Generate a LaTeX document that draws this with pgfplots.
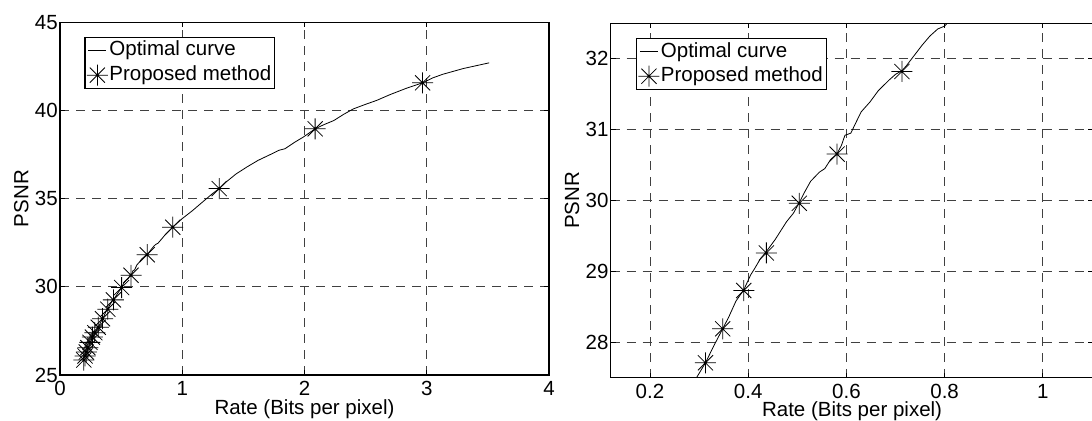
\documentclass[border=0pt]{standalone}
\usepackage{pgfplots}
\pgfplotsset{compat=1.18}
\usepackage{fontspec}
\setmainfont{Liberation Sans}

\pgfdeclareplotmark{mstar}{%
  \pgfpathmoveto{\pgfqpoint{-\pgfplotmarksize}{0pt}}%
  \pgfpathlineto{\pgfqpoint{\pgfplotmarksize}{0pt}}%
  \pgfpathmoveto{\pgfqpoint{0pt}{-\pgfplotmarksize}}%
  \pgfpathlineto{\pgfqpoint{0pt}{\pgfplotmarksize}}%
  \pgfpathmoveto{\pgfqpoint{-0.72\pgfplotmarksize}{-0.72\pgfplotmarksize}}%
  \pgfpathlineto{\pgfqpoint{0.72\pgfplotmarksize}{0.72\pgfplotmarksize}}%
  \pgfpathmoveto{\pgfqpoint{-0.72\pgfplotmarksize}{0.72\pgfplotmarksize}}%
  \pgfpathlineto{\pgfqpoint{0.72\pgfplotmarksize}{-0.72\pgfplotmarksize}}%
  \pgfusepathqstroke}

\pgfplotstableread{
x y
0.19 25.85
0.205 26.10
0.22 26.38
0.24 26.72
0.26 27.05
0.28 27.32
0.2935 27.485
0.313 27.71
0.33 27.95
0.348 28.19
0.36 28.35
0.375 28.58
0.391 28.74
0.405 28.95
0.414 29.05
0.425 29.18
0.437 29.28
0.455 29.45
0.478 29.70
0.492 29.82
0.504 29.97
0.515 30.12
0.527 30.27
0.545 30.40
0.556 30.45
0.568 30.58
0.581 30.66
0.590 30.78
0.597 30.92
0.609 30.95
0.618 31.08
0.630 31.25
0.648 31.39
0.665 31.55
0.687 31.70
0.700 31.78
0.713 31.83
0.722 31.90
0.733 32.00
0.754 32.19
0.770 32.32
0.786 32.42
0.800 32.46
0.82 32.62
0.86 32.95
0.922 33.38
1.00 33.87
1.08 34.30
1.19 34.95
1.25 35.30
1.302 35.57
1.36 35.95
1.44 36.40
1.53 36.80
1.62 37.17
1.72 37.50
1.79 37.74
1.84 37.83
1.92 38.20
1.99 38.49
2.087 38.96
2.16 39.20
2.24 39.43
2.32 39.78
2.40 40.09
2.50 40.35
2.59 40.57
2.70 40.90
2.83 41.25
2.966 41.57
3.05 41.85
3.13 42.05
3.30 42.38
3.51 42.70
}\curvedata

\pgfplotstableread{
x y
0.195 25.85
0.205 26.08
0.215 26.30
0.228 26.55
0.245 26.85
0.265 27.15
0.285 27.40
0.313 27.71
0.348 28.19
0.391 28.73
0.437 29.26
0.504 29.96
0.581 30.655
0.713 31.82
0.922 33.38
1.302 35.57
2.087 38.96
2.966 41.57
}\stardata

\pgfplotsset{
  mystyle/.style={
    scale only axis,
    axis line style={line width=1.2bp},
    tick style={black, line width=0.8bp},
    tick align=inside,
    major tick length=5bp,
    grid=major,
    major grid style={dash pattern=on 9bp off 7bp, black!75, line width=0.8bp},
    tick label style={font=\fontsize{20.5bp}{24bp}\selectfont},
    /pgf/number format/assume math mode=true,
    xticklabel style={anchor=base, yshift=-20.5bp},
    yticklabel style={inner sep=2bp},
    every axis x label/.style={anchor=base, font=\fontsize{20.5bp}{24bp}\selectfont},
    every axis y label/.style={rotate=90, anchor=base, font=\fontsize{20.5bp}{24bp}\selectfont},
    legend cell align=left,
    legend image code/.code={\draw[mark repeat=2,mark phase=2,##1] plot coordinates {(0bp,0bp) (9bp,0bp) (18bp,0bp)};},
    legend style={draw=black, line width=1.2bp, fill=white, anchor=north west,
      font=\fontsize{20.5bp}{24bp}\selectfont,
      inner xsep=2bp, inner ysep=1.2bp, row sep=0bp,
      nodes={inner xsep=1.5bp, inner ysep=2.8bp, text height=14.6bp, text depth=4.2bp}},
    curve/.style={black, line width=0.8bp, no markers},
    stars/.style={black, only marks, mark=mstar, mark size=10.5bp, mark options={line width=0.8bp}},
  }
}

\begin{document}
\begin{tikzpicture}
\useasboundingbox (0,0) rectangle (1092bp,421bp);
\begin{axis}[mystyle,
  at={(60bp,46bp)}, anchor=south west,
  width=489bp, height=352.7bp,
  xmin=0, xmax=4, ymin=25, ymax=45,
  xtick={0,1,2,3,4}, ytick={25,30,35,40,45},
  xlabel={Rate (Bits per pixel)}, ylabel={PSNR},
  x label style={at={(axis description cs:0.5,-0.1106)}},
  y label style={at={(axis description cs:-0.0648,0.5)}},
  legend style={at={(0.0497,0.959)}},
]
\addplot[curve] table[x=x,y=y] {\curvedata};
\addlegendentry{Optimal curve}
\addplot[stars] table[x=x,y=y] {\stardata};
\addlegendentry{Proposed method}
\end{axis}
\begin{axis}[mystyle,
  at={(610.7bp,43.3bp)}, anchor=south west,
  width=482.7bp, height=354.4bp,
  xmin=0.12, xmax=1.103, ymin=27.5, ymax=32.5,
  xtick={0.2,0.4,0.6,0.8,1}, ytick={28,29,30,31,32},
  xlabel={Rate (Bits per pixel)}, ylabel={PSNR},
  x label style={at={(axis description cs:0.5,-0.110)}},
  y label style={at={(axis description cs:-0.0652,0.5)}},
  legend style={at={(0.052,0.959)}},
]
\addplot[curve] table[x=x,y=y] {\curvedata};
\addlegendentry{Optimal curve}
\addplot[stars] table[x=x,y=y] {\stardata};
\addlegendentry{Proposed method}
\end{axis}
\end{tikzpicture}
\end{document}
